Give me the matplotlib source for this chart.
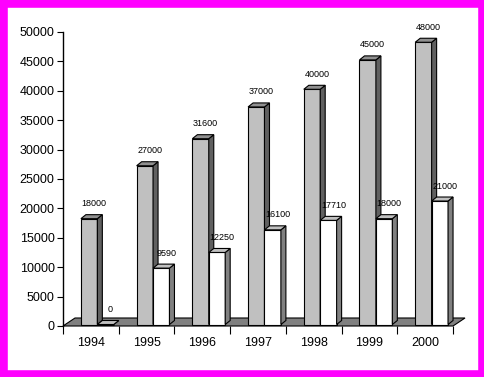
import matplotlib.pyplot as plt
from matplotlib.patches import Polygon, Rectangle

plt.rcParams['font.family'] = ['Liberation Sans', 'DejaVu Sans']

years = ['1994', '1995', '1996', '1997', '1998', '1999', '2000']
grey_vals = [18000, 27000, 31600, 37000, 40000, 45000, 48000]
white_vals = [0, 9590, 12250, 16100, 17710, 18000, 21000]

W, H = 485, 377
fig = plt.figure(figsize=(W / 100, H / 100), dpi=100)
fig.patch.set_facecolor('white')

# magenta frame
fig.patches.append(Rectangle((0, 0), 1, 1, transform=fig.transFigure,
                             fill=False, edgecolor='#FF00FF', linewidth=10.5))

left, right, bottom, top = 63, 453, 326, 32
ax = fig.add_axes([left / W, 1 - bottom / H, (right - left) / W, (bottom - top) / H])
ax.set_xlim(0, 7)
ax.set_ylim(0, 50000)

# pixel -> data conversion for the depth effect
px_x = 7 / (right - left)
px_y = 50000 / (bottom - top)
bdx, bdy = 5 * px_x, 4 * px_y      # bar depth
fdx, fdy = 12 * px_x, 8 * px_y     # floor depth

# floor
floor = Polygon([(0, 0), (7, 0), (7 + fdx, fdy), (fdx, fdy)], closed=True,
                facecolor='#808080', edgecolor='black', linewidth=0.8, clip_on=False, zorder=1)
ax.add_patch(floor)

bw = 16.5 / 56
off = 15 / 56


def bar3d(x0, h, front, topc, side):
    y0 = 1.5 * px_y
    x0 = x0 + 3 * px_x
    ax.add_patch(Rectangle((x0, y0), bw, h, facecolor=front, edgecolor='black',
                           linewidth=0.8, clip_on=False, zorder=3))
    ax.add_patch(Polygon([(x0 + bw, y0), (x0 + bw + bdx, y0 + bdy),
                          (x0 + bw + bdx, y0 + h + bdy), (x0 + bw, y0 + h)],
                         closed=True, facecolor=side, edgecolor='black',
                         linewidth=0.8, clip_on=False, zorder=3))
    ax.add_patch(Polygon([(x0, y0 + h), (x0 + bw, y0 + h), (x0 + bw + bdx, y0 + h + bdy),
                          (x0 + bdx, y0 + h + bdy)], closed=True, facecolor=topc,
                         edgecolor='black', linewidth=0.8, clip_on=False, zorder=3))
    return x0, y0


for i in range(len(years)):
    gx, gy = bar3d(i + off, grey_vals[i], '#C0C0C0', '#909090', '#606060')
    ax.text(gx + bw / 2 + 5 * px_x, grey_vals[i] + 12 * px_y, str(grey_vals[i]),
            ha='center', va='bottom', fontsize=6.5, zorder=5)
    wx, wy = bar3d(i + off + bw, white_vals[i], 'white', '#C0C0C0', '#808080')
    ax.text(wx + bw / 2 + 5 * px_x, white_vals[i] + 12 * px_y, str(white_vals[i]),
            ha='center', va='bottom', fontsize=6.5, zorder=5)

ax.set_xticks(range(8))
ax.set_xticklabels([])
ax.set_xticks([i + 0.5 for i in range(7)], minor=True)
ax.set_xticklabels(years, minor=True, fontsize=9)
ax.tick_params(axis='x', which='minor', length=0, pad=8)
ax.tick_params(axis='x', which='major', length=6, direction='out')
ax.set_yticks(range(0, 50001, 5000))
ax.set_yticklabels([str(v) for v in range(0, 50001, 5000)], fontsize=9)
ax.tick_params(axis='y', length=4, pad=2)

for s in ['top', 'right']:
    ax.spines[s].set_visible(False)
ax.spines['bottom'].set_visible(False)
ax.spines['left'].set_linewidth(1)
ax.patch.set_alpha(0)

fig.savefig('out.png', dpi=100)
